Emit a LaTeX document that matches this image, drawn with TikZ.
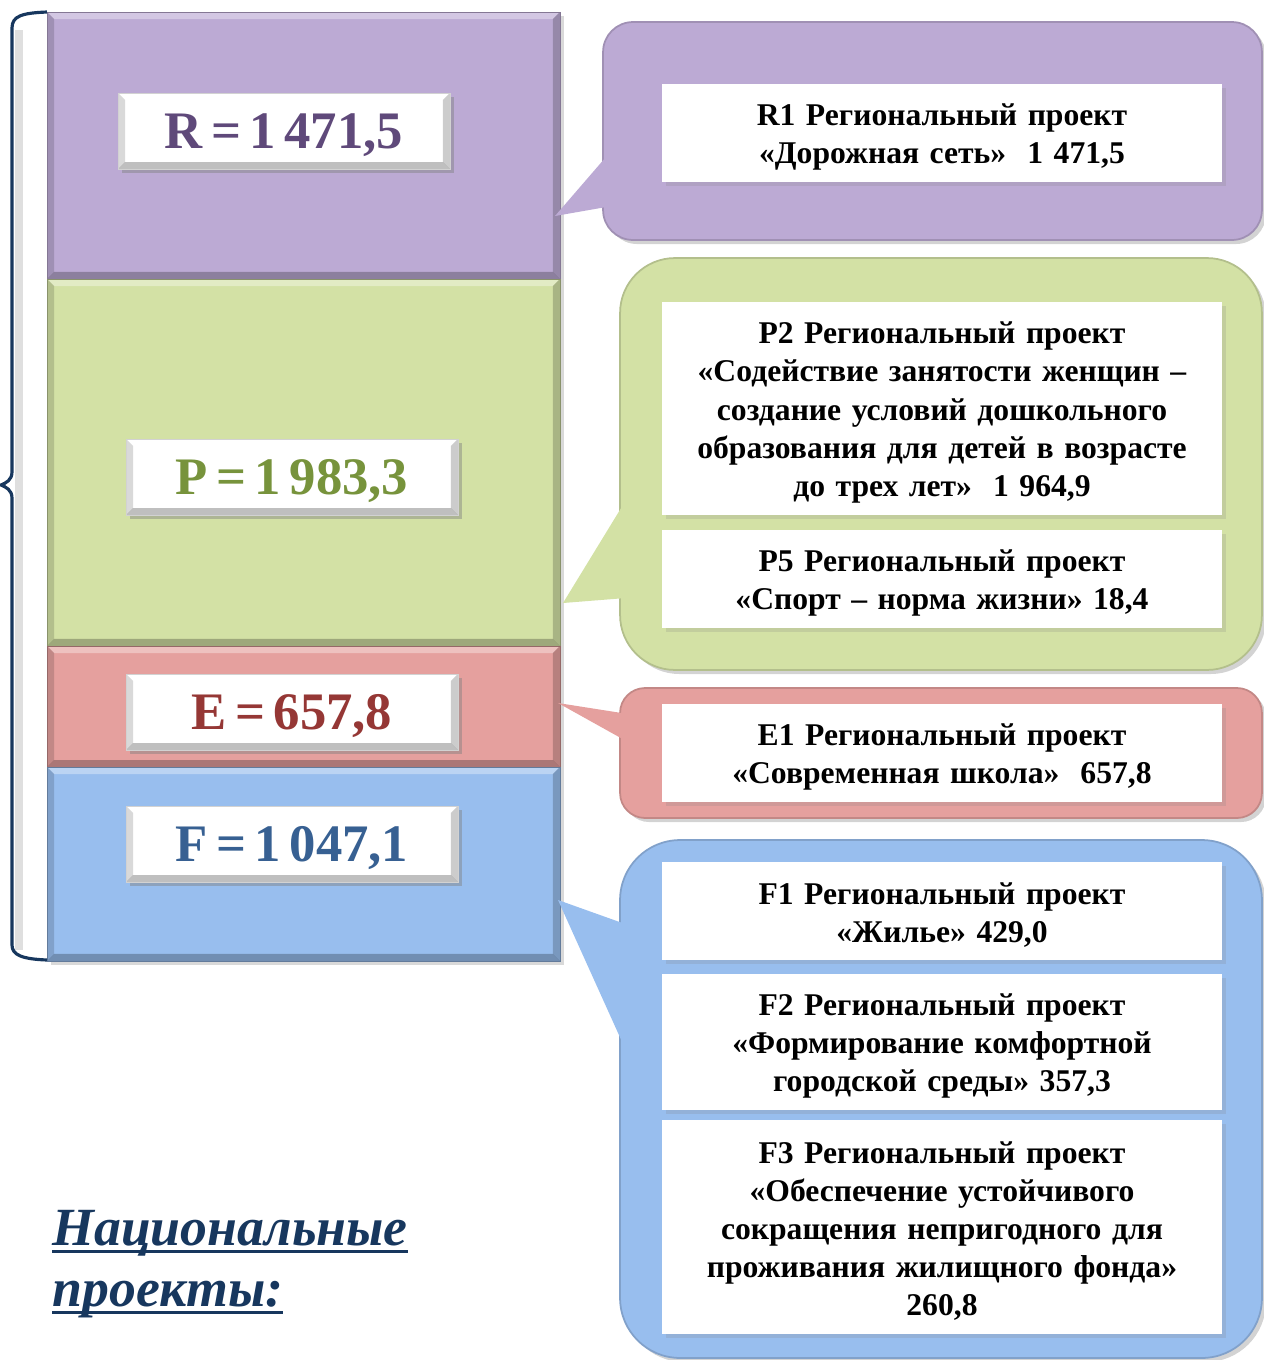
\documentclass[tikz,border=0pt]{standalone}
\usepackage{fontspec}
\setmainfont{Liberation Serif}
\usetikzlibrary{shadows}
\definecolor{lilac}{RGB}{188,170,212}
\definecolor{leaf}{RGB}{211,225,165}
\definecolor{rose}{RGB}{229,160,158}
\definecolor{sky}{RGB}{152,190,238}
\definecolor{navy}{RGB}{23,55,94}
\definecolor{lilacT}{RGB}{95,73,122}
\definecolor{leafT}{RGB}{119,147,60}
\definecolor{roseT}{RGB}{149,55,53}
\definecolor{skyT}{RGB}{55,96,146}
\newcommand{\thickul}[1]{\setbox0\hbox{#1}\rlap{\rule[-4.6pt]{\wd0}{1.6pt}}\box0}
\newcommand{\tightsp}{\spaceskip=0.16em\relax}

\begin{document}
\begin{tikzpicture}[x=0.02cm, y=-0.02cm]
    \tikzstyle{bevel} = [path picture={
        \fill[white, opacity=0.35] (path picture bounding box.north west) -- (path picture bounding box.north east)
            -- ([xshift=-0.14cm, yshift=-0.14cm]path picture bounding box.north east) -- ([xshift=0.14cm, yshift=-0.14cm]path picture bounding box.north west) -- cycle;
        \fill[black, opacity=0.25] (path picture bounding box.south west) -- (path picture bounding box.south east)
            -- ([xshift=-0.14cm, yshift=0.14cm]path picture bounding box.south east) -- ([xshift=0.14cm, yshift=0.14cm]path picture bounding box.south west) -- cycle;
        \fill[black, opacity=0.15] (path picture bounding box.north west) -- (path picture bounding box.south west)
            -- ([xshift=0.14cm, yshift=0.14cm]path picture bounding box.south west) -- ([xshift=0.14cm, yshift=-0.14cm]path picture bounding box.north west) -- cycle;
        \fill[black, opacity=0.2] (path picture bounding box.north east) -- (path picture bounding box.south east)
            -- ([xshift=-0.14cm, yshift=0.14cm]path picture bounding box.south east) -- ([xshift=-0.14cm, yshift=-0.14cm]path picture bounding box.north east) -- cycle;
    }]
    \tikzstyle{bar} = [rectangle, bevel, minimum width=10.26cm, inner sep=0pt, outer sep=0pt, drop shadow={opacity=0.3}]
    \tikzstyle{value} = [rectangle, bevel, fill=white, draw=gray!35, minimum width=6.64cm, minimum height=1.52cm, text depth=0pt,
        font=\fontsize{30}{36}\selectfont\bfseries\tightsp, drop shadow={opacity=0.45}]
    \tikzstyle{bubble} = [rectangle, minimum width=12.84cm, inner sep=0pt, outer sep=0pt, line width=1pt, drop shadow={opacity=0.35}]
    \tikzstyle{project} = [rectangle, fill=white, inner sep=0pt, minimum width=11.2cm, text width=11.2cm, align=center,
        font=\fontsize{18}{21.7}\selectfont\bfseries, execute at begin node={\rule{0pt}{17pt}}, drop shadow={opacity=0.2}]
    \tikzstyle{brace} = [navy, line width=1.8pt]
    \tikzstyle{heading} = [anchor=base west, inner sep=0pt, text=navy, font=\fontsize{30.6}{36}\selectfont\bfseries\itshape]
    \useasboundingbox (0,0) rectangle (1264,1360);

    % left column
    \node[bar, fill=lilac, draw=lilac!70!black, minimum height=5.34cm] (barR) at (303.5,145.5) {};
    \node[bar, fill=leaf, draw=leaf!65!black, minimum height=7.34cm] (barP) at (303.5,462.5) {};
    \node[bar, fill=rose, draw=rose!65!black, minimum height=2.42cm] (barE) at (303.5,706.5) {};
    \node[bar, fill=sky, draw=sky!65!black, minimum height=3.88cm] (barF) at (303.5,864) {};

    \node[value, text=lilacT] (valR) at (284,131) {R = 1 471,5};
    \node[value, text=leafT] (valP) at (292,477) {P = 1 983,3};
    \node[value, text=roseT] (valE) at (292,712) {E = 657,8};
    \node[value, text=skyT] (valF) at (292,844) {F = 1 047,1};

    % brace
    \draw[gray!25, line width=5pt] (19,30) -- (19,950);
    \draw[brace] (47,12) .. controls (22,13) and (12,16) .. (12,28) -- (12,472)
        .. controls (12,480) and (6,483) .. (1,485) .. controls (6,487) and (12,490) .. (12,498)
        -- (12,945) .. controls (12,955) and (22,959) .. (47,960);

    % tails
    \coordinate (tipR) at (555,216);
    \coordinate (tipP) at (563,603);
    \coordinate (tipE) at (558,703);
    \coordinate (tipF) at (558,900);

    % callouts
    \node[bubble, fill=lilac, draw=lilac!85!black, rounded corners=0.6cm, minimum height=4.36cm, minimum width=13.18cm] (callR) at (932.5,131) {};
    \node[bubble, fill=leaf, draw=leaf!85!black, rounded corners=1.1cm, minimum height=8.24cm] (callP) at (941,464) {};
    \node[bubble, fill=rose, draw=rose!85!black, rounded corners=0.5cm, minimum height=2.6cm] (callE) at (941,753) {};
    \node[bubble, fill=sky, draw=sky!85!black, rounded corners=1.2cm, minimum height=10.36cm] (callF) at (941,1099) {};
    \fill[lilac] (tipR) -- (612,150) -- (612,206) -- cycle;
    \fill[leaf] (tipP) -- (626,500) -- (626,598) -- cycle;
    \fill[rose] (tipE) -- (628,714) -- (628,742) -- cycle;
    \fill[sky] (tipF) -- (628,925) -- (628,1055) -- cycle;

    \node[project, minimum height=1.96cm] (txtR1) at (942,133) {R1 Региональный проект\\«Дорожная сеть»\ \ 1 471,5};
    \node[project, minimum height=4.26cm] (txtP2) at (942,408.5) {P2 Региональный проект\\«Содействие занятости женщин –\\создание условий дошкольного\\образования для детей в возрасте\\до трех лет»\ \ 1 964,9};
    \node[project, minimum height=1.96cm] (txtP5) at (942,579) {P5 Региональный проект\\«Спорт – норма жизни» 18,4};
    \node[project, minimum height=1.96cm] (txtE1) at (942,753) {E1 Региональный проект\\«Современная школа»\ \ 657,8};
    \node[project, minimum height=1.96cm] (txtF1) at (942,911) {F1 Региональный проект\\«Жилье» 429,0};
    \node[project, minimum height=2.72cm] (txtF2) at (942,1042) {F2 Региональный проект\\«Формирование комфортной\\городской среды» 357,3};
    \node[project, minimum height=4.28cm] (txtF3) at (942,1227) {F3 Региональный проект\\«Обеспечение устойчивого\\сокращения непригодного для\\проживания жилищного фонда»\\260,8};

    % title
    \node[heading] (title1) at (52,1245) {\thickul{Национальные}};
    \node[heading] (title2) at (52,1306) {\thickul{проекты:}};
\end{tikzpicture}
\end{document}
